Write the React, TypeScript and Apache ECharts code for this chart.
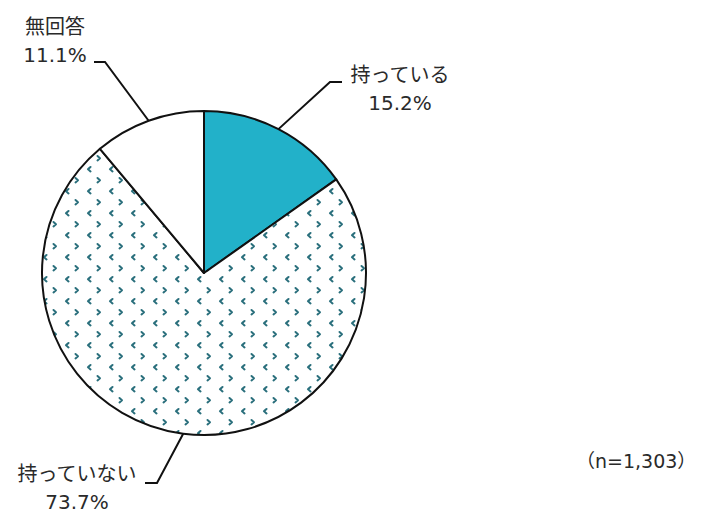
import React, { useEffect, useRef } from "react";
import * as echarts from "echarts";

const categories = ["持っている", "持っていない", "無回答"];
const values = [15.2, 73.7, 11.1];
const sampleNote = "（n=1,303）";

const CX = 204;
const CY = 273;
const R = 162;
const FONT = '"DejaVu Sans", "Noto Sans CJK JP", sans-serif';

// label layout (positions only)
const labelPos = [
  { x: 400, y: 89, bend: [330, 82], end: [342, 82] },
  { x: 77, y: 488, bend: [157, 483], end: [145, 483] },
  { x: 55, y: 41, bend: [105, 62], end: [94, 62] },
];

function makePattern(): HTMLCanvasElement {
  const c = document.createElement("canvas");
  c.width = 22;
  c.height = 22;
  const ctx = c.getContext("2d")!;
  ctx.fillStyle = "#ffffff";
  ctx.fillRect(0, 0, 22, 22);
  ctx.strokeStyle = "#2a6f7c";
  ctx.lineWidth = 2;
  ctx.lineCap = "round";
  ctx.lineJoin = "round";
  // ">" mark
  ctx.beginPath();
  ctx.moveTo(9.5, 2);
  ctx.lineTo(12, 4.2);
  ctx.lineTo(9.5, 6.4);
  ctx.stroke();
  // "<" mark (wrapped across tile edge)
  for (const ox of [0, 22]) {
    ctx.beginPath();
    ctx.moveTo(2.5 + ox, 13);
    ctx.lineTo(0 + ox, 15.2);
    ctx.lineTo(2.5 + ox, 17.4);
    ctx.stroke();
  }
  return c;
}

function edgePoint(i: number): number[] {
  const total = values.reduce((a, b) => a + b, 0);
  let before = 0;
  for (let k = 0; k < i; k++) before += values[k];
  const frac = (before + values[i] / 2) / total;
  const phi = frac * Math.PI * 2;
  return [CX + R * Math.sin(phi), CY - R * Math.cos(phi)];
}

export default function App() {
  const ref = useRef<HTMLDivElement>(null);
  useEffect(() => {
    document.body.style.margin = "0";
    const chart = echarts.init(ref.current!, null, { renderer: "svg" });
    const pattern = makePattern();
    const colors: any[] = [
      "#22b1c9",
      { image: pattern, repeat: "repeat" },
      "#ffffff",
    ];
    chart.setOption({
      animation: false,
      backgroundColor: "#ffffff",
      series: [
        {
          type: "pie",
          center: [CX, CY],
          radius: [0, R],
          startAngle: 90,
          clockwise: true,
          silent: true,
          itemStyle: { borderColor: "#111111", borderWidth: 2 },
          label: {
            show: true,
            position: "outside",
            color: "#2a2a2a",
            fontFamily: FONT,
            fontSize: 20,
            lineHeight: 28,
            align: "center",
            formatter: (p: any) => `${p.name}\n${values[p.dataIndex].toFixed(1)}%`,
          },
          labelLine: {
            show: true,
            lineStyle: { color: "#111111", width: 2 },
          },
          labelLayout: (params: any) => {
            const i = params.dataIndex;
            const lp = labelPos[i];
            return {
              x: lp.x,
              y: lp.y,
              align: "center",
              verticalAlign: "middle",
              labelLinePoints: [edgePoint(i), lp.bend, lp.end],
            };
          },
          data: categories.map((name, i) => ({
            name,
            value: values[i],
            itemStyle: { color: colors[i] },
          })),
        },
      ],
      graphic: [
        {
          type: "text",
          left: 576,
          top: 451,
          style: {
            text: sampleNote,
            fill: "#2a2a2a",
            font: `19px ${FONT}`,
          },
        },
      ],
    });
    return () => chart.dispose();
  }, []);
  return <div ref={ref} style={{ width: 703, height: 514 }} />;
}
